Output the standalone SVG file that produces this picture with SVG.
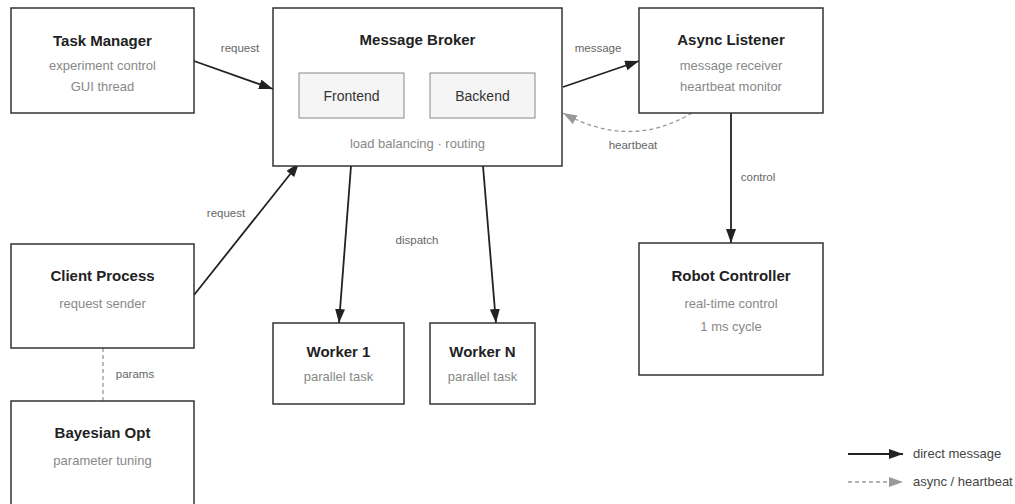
<svg xmlns="http://www.w3.org/2000/svg" width="1015" height="504" viewBox="0 0 1015 504">
<defs>
<style>
.box{fill:#fff;stroke:#333;stroke-width:1.5}
.inner{fill:#f5f5f5;stroke:#888;stroke-width:1}
.title{font-family:"Liberation Sans",Arial,sans-serif;font-size:15px;font-weight:bold;fill:#222;text-anchor:middle}
.sub{font-family:"Liberation Sans",Arial,sans-serif;font-size:13px;fill:#888;text-anchor:middle}
.itext{font-family:"Liberation Sans",Arial,sans-serif;font-size:14px;fill:#333;text-anchor:middle}
.lbl{font-family:"Liberation Sans",Arial,sans-serif;font-size:11.5px;fill:#666;text-anchor:middle}
.leg{font-family:"Liberation Sans",Arial,sans-serif;font-size:13px;fill:#444}
.solid{fill:none;stroke:#222;stroke-width:1.8}
.dash{fill:none;stroke:#999;stroke-width:1.3;stroke-dasharray:4 3}
</style>
<marker id="ah" markerUnits="userSpaceOnUse" markerWidth="15" markerHeight="11" refX="14" refY="5" orient="auto"><path d="M0,0 L14,5 L0,10 z" fill="#222"/></marker>
<marker id="ahg" markerUnits="userSpaceOnUse" markerWidth="15" markerHeight="11" refX="14" refY="5" orient="auto"><path d="M0,0 L14,5 L0,10 z" fill="#999"/></marker>
</defs>
<rect width="1015" height="504" fill="#fff"/>

<g id="connectors">
<line class="solid" x1="194" y1="61" x2="273" y2="89" marker-end="url(#ah)"/>
<text class="lbl" x="240" y="52">request</text>
<line class="solid" x1="563" y1="87" x2="639" y2="61" marker-end="url(#ah)"/>
<text class="lbl" x="598" y="52">message</text>
<path class="dash" d="M692,113 Q630,150 563,113" marker-end="url(#ahg)"/>
<text class="lbl" x="633" y="149">heartbeat</text>
<line class="solid" x1="731" y1="113" x2="731" y2="243" marker-end="url(#ah)"/>
<text class="lbl" x="758" y="181">control</text>
<line class="solid" x1="194" y1="295" x2="299" y2="163" marker-end="url(#ah)"/>
<text class="lbl" x="226" y="217">request</text>
<line class="solid" x1="351" y1="166" x2="339" y2="323" marker-end="url(#ah)"/>
<line class="solid" x1="483" y1="166" x2="496" y2="323" marker-end="url(#ah)"/>
<text class="lbl" x="417" y="244">dispatch</text>
<line class="dash" x1="103" y1="348" x2="103" y2="401"/>
<text class="lbl" x="135" y="378">params</text>
</g>

<g id="task-manager">
<rect class="box" x="11" y="8" width="183" height="105"/>
<text class="title" x="102.5" y="46">Task Manager</text>
<text class="sub" x="102.5" y="70">experiment control</text>
<text class="sub" x="102.5" y="91">GUI thread</text>
</g>

<g id="message-broker">
<rect class="box" x="273" y="8" width="289" height="158"/>
<text class="title" x="417.5" y="45">Message Broker</text>
<rect class="inner" x="299" y="73" width="105" height="45"/>
<text class="itext" x="351.5" y="101">Frontend</text>
<rect class="inner" x="430" y="73" width="105" height="45"/>
<text class="itext" x="482.5" y="101">Backend</text>
<text class="sub" x="417.5" y="148">load balancing · routing</text>
</g>

<g id="async-listener">
<rect class="box" x="639" y="8" width="184" height="105"/>
<text class="title" x="731" y="45">Async Listener</text>
<text class="sub" x="731" y="70">message receiver</text>
<text class="sub" x="731" y="91">heartbeat monitor</text>
</g>

<g id="client-process">
<rect class="box" x="11" y="244" width="183" height="104"/>
<text class="title" x="102.5" y="281">Client Process</text>
<text class="sub" x="102.5" y="308">request sender</text>
</g>

<g id="bayesian-opt">
<rect class="box" x="11" y="401" width="183" height="104"/>
<text class="title" x="102.5" y="438">Bayesian Opt</text>
<text class="sub" x="102.5" y="465">parameter tuning</text>
</g>

<g id="worker-1">
<rect class="box" x="273" y="323" width="131" height="81"/>
<text class="title" x="338.5" y="357">Worker 1</text>
<text class="sub" x="338.5" y="381">parallel task</text>
</g>

<g id="worker-n">
<rect class="box" x="430" y="323" width="105" height="81"/>
<text class="title" x="482.5" y="357">Worker N</text>
<text class="sub" x="482.5" y="381">parallel task</text>
</g>

<g id="robot-controller">
<rect class="box" x="639" y="243" width="184" height="132"/>
<text class="title" x="731" y="281">Robot Controller</text>
<text class="sub" x="731" y="308">real-time control</text>
<text class="sub" x="731" y="331">1 ms cycle</text>
</g>

<g id="legend">
<line class="solid" x1="848" y1="454" x2="903" y2="454" marker-end="url(#ah)"/>
<text class="leg" x="913" y="458">direct message</text>
<line class="dash" x1="848" y1="482" x2="903" y2="482" marker-end="url(#ahg)"/>
<text class="leg" x="913" y="486">async / heartbeat</text>
</g>
</svg>
